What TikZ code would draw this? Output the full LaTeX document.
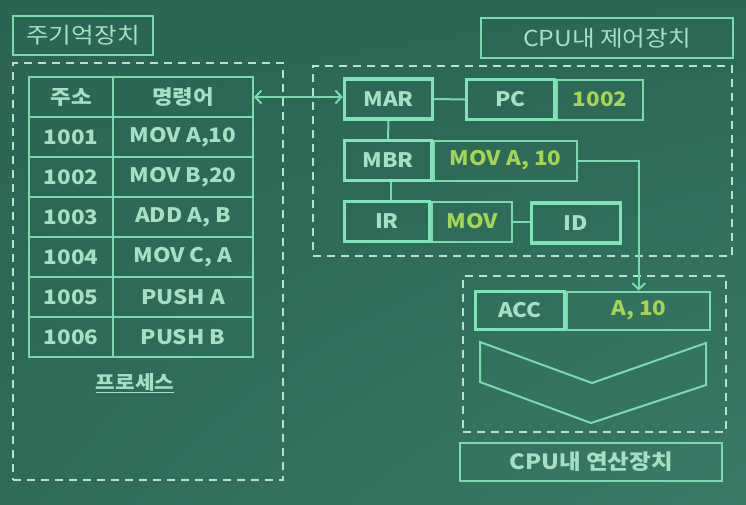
\documentclass[tikz,border=0pt]{standalone}
\usepackage{fontspec}
\setmainfont{Noto Sans CJK KR}[FakeStretch=1.12]
\usepackage{tikz}
\usetikzlibrary{                          % TikZ libraries
                positioning,              % .
                arrows.meta,              % .
                shadings,                 % .
                calc}
\usepackage{xcolor}
\definecolor{board}{RGB}{43,100,83}
\definecolor{boardlight}{RGB}{58,122,103}
\definecolor{mint}{RGB}{122,218,174}
\definecolor{mintbright}{RGB}{128,228,184}
\definecolor{chalk}{RGB}{168,222,196}
\definecolor{dashline}{RGB}{186,224,204}
\definecolor{lime}{RGB}{166,212,84}

\begin{document}
\begin{tikzpicture}[x=1pt,y=-1pt,
                    >={Straight Barb[length=6pt,width=13pt]}
                    ]
                % define styles
\tikzset{cell/.style={rectangle,
                       draw=mint,
                       line width=2pt,
                       text=chalk,
                       font=\bfseries\fontsize{20}{24}\selectfont,
                       minimum height=40pt,
                       inner sep=0,
                       },
         reg/.style={rectangle,
                       draw=mintbright,
                       line width=3.5pt,
                       text=chalk,
                       font=\bfseries\fontsize{20}{24}\selectfont,
                       minimum height=40pt,
                       inner sep=0,
                       },
         val/.style={rectangle,
                       draw=mint,
                       line width=2pt,
                       text=lime,
                       font=\bfseries\fontsize{20}{24}\selectfont,
                       minimum height=40pt,
                       inner sep=0,
                       },
         title/.style={rectangle,
                       draw=mint,
                       line width=2pt,
                       text=chalk,
                       font=\fontsize{22}{26}\selectfont,
                       inner sep=0,
                       },
         area/.style={rectangle,
                       draw=dashline,
                       line width=1.8pt,
                       dash pattern=on 8pt off 6pt,
                       inner sep=0,
                       },
         link/.style={draw=mint,
                       line width=2pt,
                       }
}

% background
\useasboundingbox (0,0) rectangle (746,504);
\shade[upper left=board, upper right=board!90!boardlight,
       lower left=board!70!boardlight, lower right=boardlight] (0,0) rectangle (746,504);

% main memory
\node[title, minimum width=140pt, minimum height=39pt] (memtitle) at (83,35.5) {주기억장치};
\node[area, minimum width=270pt, minimum height=417pt] (memarea) at (148,271.5) {};

\foreach \addr/\instr [count=\i from 0] in {주소/명령어, 1001/{MOV A,10}, 1002/{MOV B,20},
                                           1003/{ADD A, B}, 1004/{MOV C, A},
                                           1005/PUSH A, 1006/PUSH B}
{
    \node[cell, minimum width=84pt] (addr\i)  at (71,{97+40*\i})  {\addr};
    \node[cell, minimum width=140pt] (instr\i) at (183,{97+40*\i}) {\instr};
}

\node[text=chalk, font=\bfseries\fontsize{19}{24}\selectfont] (proc) at (135,383) {\underline{프로세스}};

% control unit
\node[title, minimum width=252pt, minimum height=40pt] (cputitle) at (607,38) {CPU내 제어장치};
\node[area, minimum width=419pt, minimum height=190pt] (ctrlarea) at (522.5,161) {};

\node[reg, minimum width=88pt]  (mar)    at (388.5,99)  {MAR};
\node[reg, minimum width=88pt]  (pc)     at (510.5,99.5) {PC};
\node[val, minimum width=86pt, right=0pt of pc]  (pcval)  {1002};
\node[reg, minimum width=87pt]  (mbr)    at (388,160.5) {MBR};
\node[val, minimum width=143pt, right=0pt of mbr] (mbrval) {MOV A, 10};
\node[reg, minimum width=85pt]  (ir)     at (387,221.5) {IR};
\node[val, minimum width=80pt, right=0pt of ir]   (irval)  {MOV};
\node[reg, minimum width=89pt]  (id)     at (576,223)   {ID};

% arithmetic unit
\node[area, minimum width=263pt, minimum height=156pt] (aluarea) at (594.5,354) {};
\node[reg, minimum width=89pt, minimum height=38pt] (acc) at (520,310.5) {ACC};
\node[val, minimum width=143pt, minimum height=38pt, right=0pt of acc] (accval) {A, 10};
\draw[link] (480,342) -- (592,383) -- (706,343) -- (706,385) -- (591,423) -- (480,382) -- cycle;
\node[title, minimum width=262pt, minimum height=38pt, font=\bfseries\fontsize{21}{26}\selectfont] (alutitle) at (591,462) {CPU내 연산장치};

% connectors
\draw[link, <->] (instr0.east) -- (instr0.east -| mar.west);
\draw[link] (mar.east) -- (pc.west);
\draw[link] (mar.south) -- (mbr.north);
\draw[link] (mbr.south) ++(3,0) -- ($(ir.north)+(4,0)$);
\draw[link] (irval.east) -- (irval.east -| id.west);
\draw[link, ->] (mbrval.east) -| (accval.north);

\end{tikzpicture}
\end{document}
